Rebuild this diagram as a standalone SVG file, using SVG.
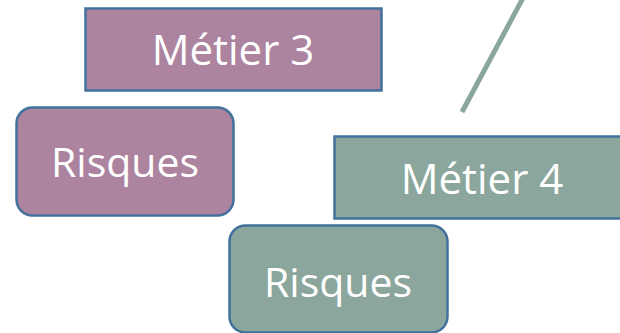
<svg xmlns="http://www.w3.org/2000/svg" width="620" height="333" viewBox="0 0 620 333">
<style>
.n{stroke:#41719C;stroke-width:2.5}
.p{fill:#AC849F}
.g{fill:#8BA69C}
.t{font-family:"Open Sans","Liberation Sans",sans-serif;fill:#FFFFFF;text-anchor:middle}
</style>
<rect width="620" height="333" fill="#FFFFFF"/>
<g id="connectors">
<line x1="523" y1="-2" x2="462" y2="112" stroke="#8BA69C" stroke-width="5"/>
</g>
<g id="metier3">
<rect class="n p" x="85.5" y="8.5" width="296" height="82"/>
<text class="t" x="233" y="65" font-size="42">Métier 3</text>
</g>
<g id="risques1">
<rect class="n p" x="16.5" y="107.5" width="217" height="108" rx="16"/>
<text class="t" x="125" y="177" font-size="41">Risques</text>
</g>
<g id="metier4">
<rect class="n g" x="334.5" y="136.5" width="300" height="82"/>
<text class="t" x="482" y="194" font-size="42">Métier 4</text>
</g>
<g id="risques2">
<rect class="n g" x="229.5" y="225.5" width="218" height="107" rx="16"/>
<text class="t" x="338" y="297" font-size="41">Risques</text>
</g>
</svg>
